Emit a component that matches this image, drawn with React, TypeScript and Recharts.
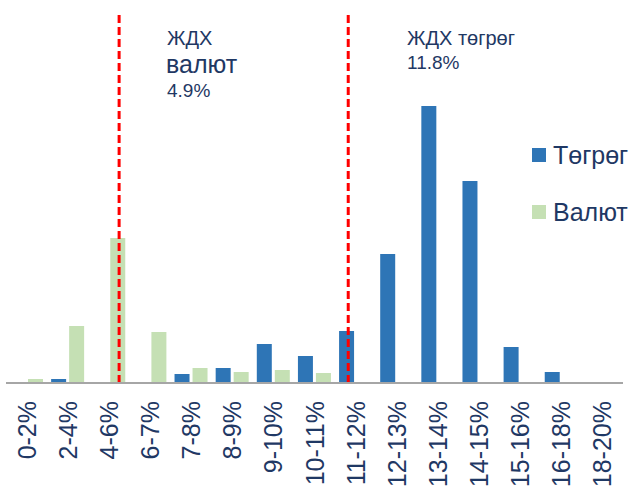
import { BarChart, Bar, XAxis, YAxis, ReferenceLine } from 'recharts';

const categories = ['0-2%', '2-4%', '4-6%', '6-7%', '7-8%', '8-9%', '9-10%', '10-11%', '11-12%', '12-13%', '13-14%', '14-15%', '15-16%', '16-18%', '18-20%'];
const tugrug = [0.1, 0.4, 0, 0.1, 0.9, 1.5, 3.9, 2.7, 5.2, 12.9, 27.7, 20.2, 3.6, 1.1, 0.05];
const valyut = [0.4, 5.7, 14.5, 5.1, 1.5, 1.1, 1.3, 1.0, 0, 0, 0, 0, 0, 0, 0];

// positions of the average-rate lines, in category units (0 = left edge)
const refValyut = 2.75;
const refTugrug = 8.32;

const BLUE = '#2E75B6';
const GREEN = '#C5E0B4';
const TEXT = '#1F3864';
const FONT = '"Liberation Sans", Arial, sans-serif';

const data = categories.map((name, i) => ({ name, pos: i + 0.5, tugrug: tugrug[i], valyut: valyut[i] }));

const RotatedTick = (props: any) => {
    const { x, y, payload } = props;
    return (
        <text
            x={x}
            y={y}
            transform={`rotate(-90, ${x}, ${y})`}
            textAnchor="end"
            dy="0.36em"
            fill={TEXT}
            fontSize={25}
            fontFamily={FONT}
        >
            {payload.value}
        </text>
    );
};

export default function App() {
    return (
        <div style={{ position: 'absolute', left: 0, top: 0, width: 631, height: 493, background: '#fff' }}>
            <BarChart
                width={631}
                height={493}
                data={data}
                margin={{ top: 12, right: 8, left: 6, bottom: 0 }}
                barSize={15}
                barGap={3}
            >
                <XAxis
                    dataKey="name"
                    interval={0}
                    height={110}
                    tickLine={false}
                    axisLine={{ stroke: '#A6A6A6', strokeWidth: 2 }}
                    tick={<RotatedTick />}
                    tickMargin={12}
                />
                <XAxis xAxisId="ref" dataKey="pos" type="number" domain={[0, 15]} allowDataOverflow hide />
                <YAxis hide domain={[0, 37.1]} allowDataOverflow />
                <Bar dataKey="tugrug" name="Төгрөг" fill={BLUE} isAnimationActive={false} />
                <Bar dataKey="valyut" name="Валют" fill={GREEN} isAnimationActive={false} />
                <ReferenceLine xAxisId="ref" x={refValyut} stroke="#FF0000" strokeWidth={3} strokeDasharray="8 4" />
                <ReferenceLine xAxisId="ref" x={refTugrug} stroke="#FF0000" strokeWidth={3} strokeDasharray="8 4" />
            </BarChart>
            <svg
                width={631}
                height={493}
                style={{ position: 'absolute', left: 0, top: 0, pointerEvents: 'none' }}
                fontFamily={FONT}
                fill={TEXT}
            >
                <text x={167} y={45} fontSize={20}>ЖДХ</text>
                <text x={166} y={73} fontSize={25}>валют</text>
                <text x={167} y={97} fontSize={19}>4.9%</text>
                <text x={407} y={45} fontSize={20}>ЖДХ төгрөг</text>
                <text x={407} y={69} fontSize={19}>11.8%</text>
                <rect x={532} y={148} width={14} height={14} fill={BLUE} />
                <text x={553} y={164} fontSize={25}>Төгрөг</text>
                <rect x={532} y={205} width={14} height={14} fill={GREEN} />
                <text x={553} y={221} fontSize={25}>Валют</text>
            </svg>
        </div>
    );
}
